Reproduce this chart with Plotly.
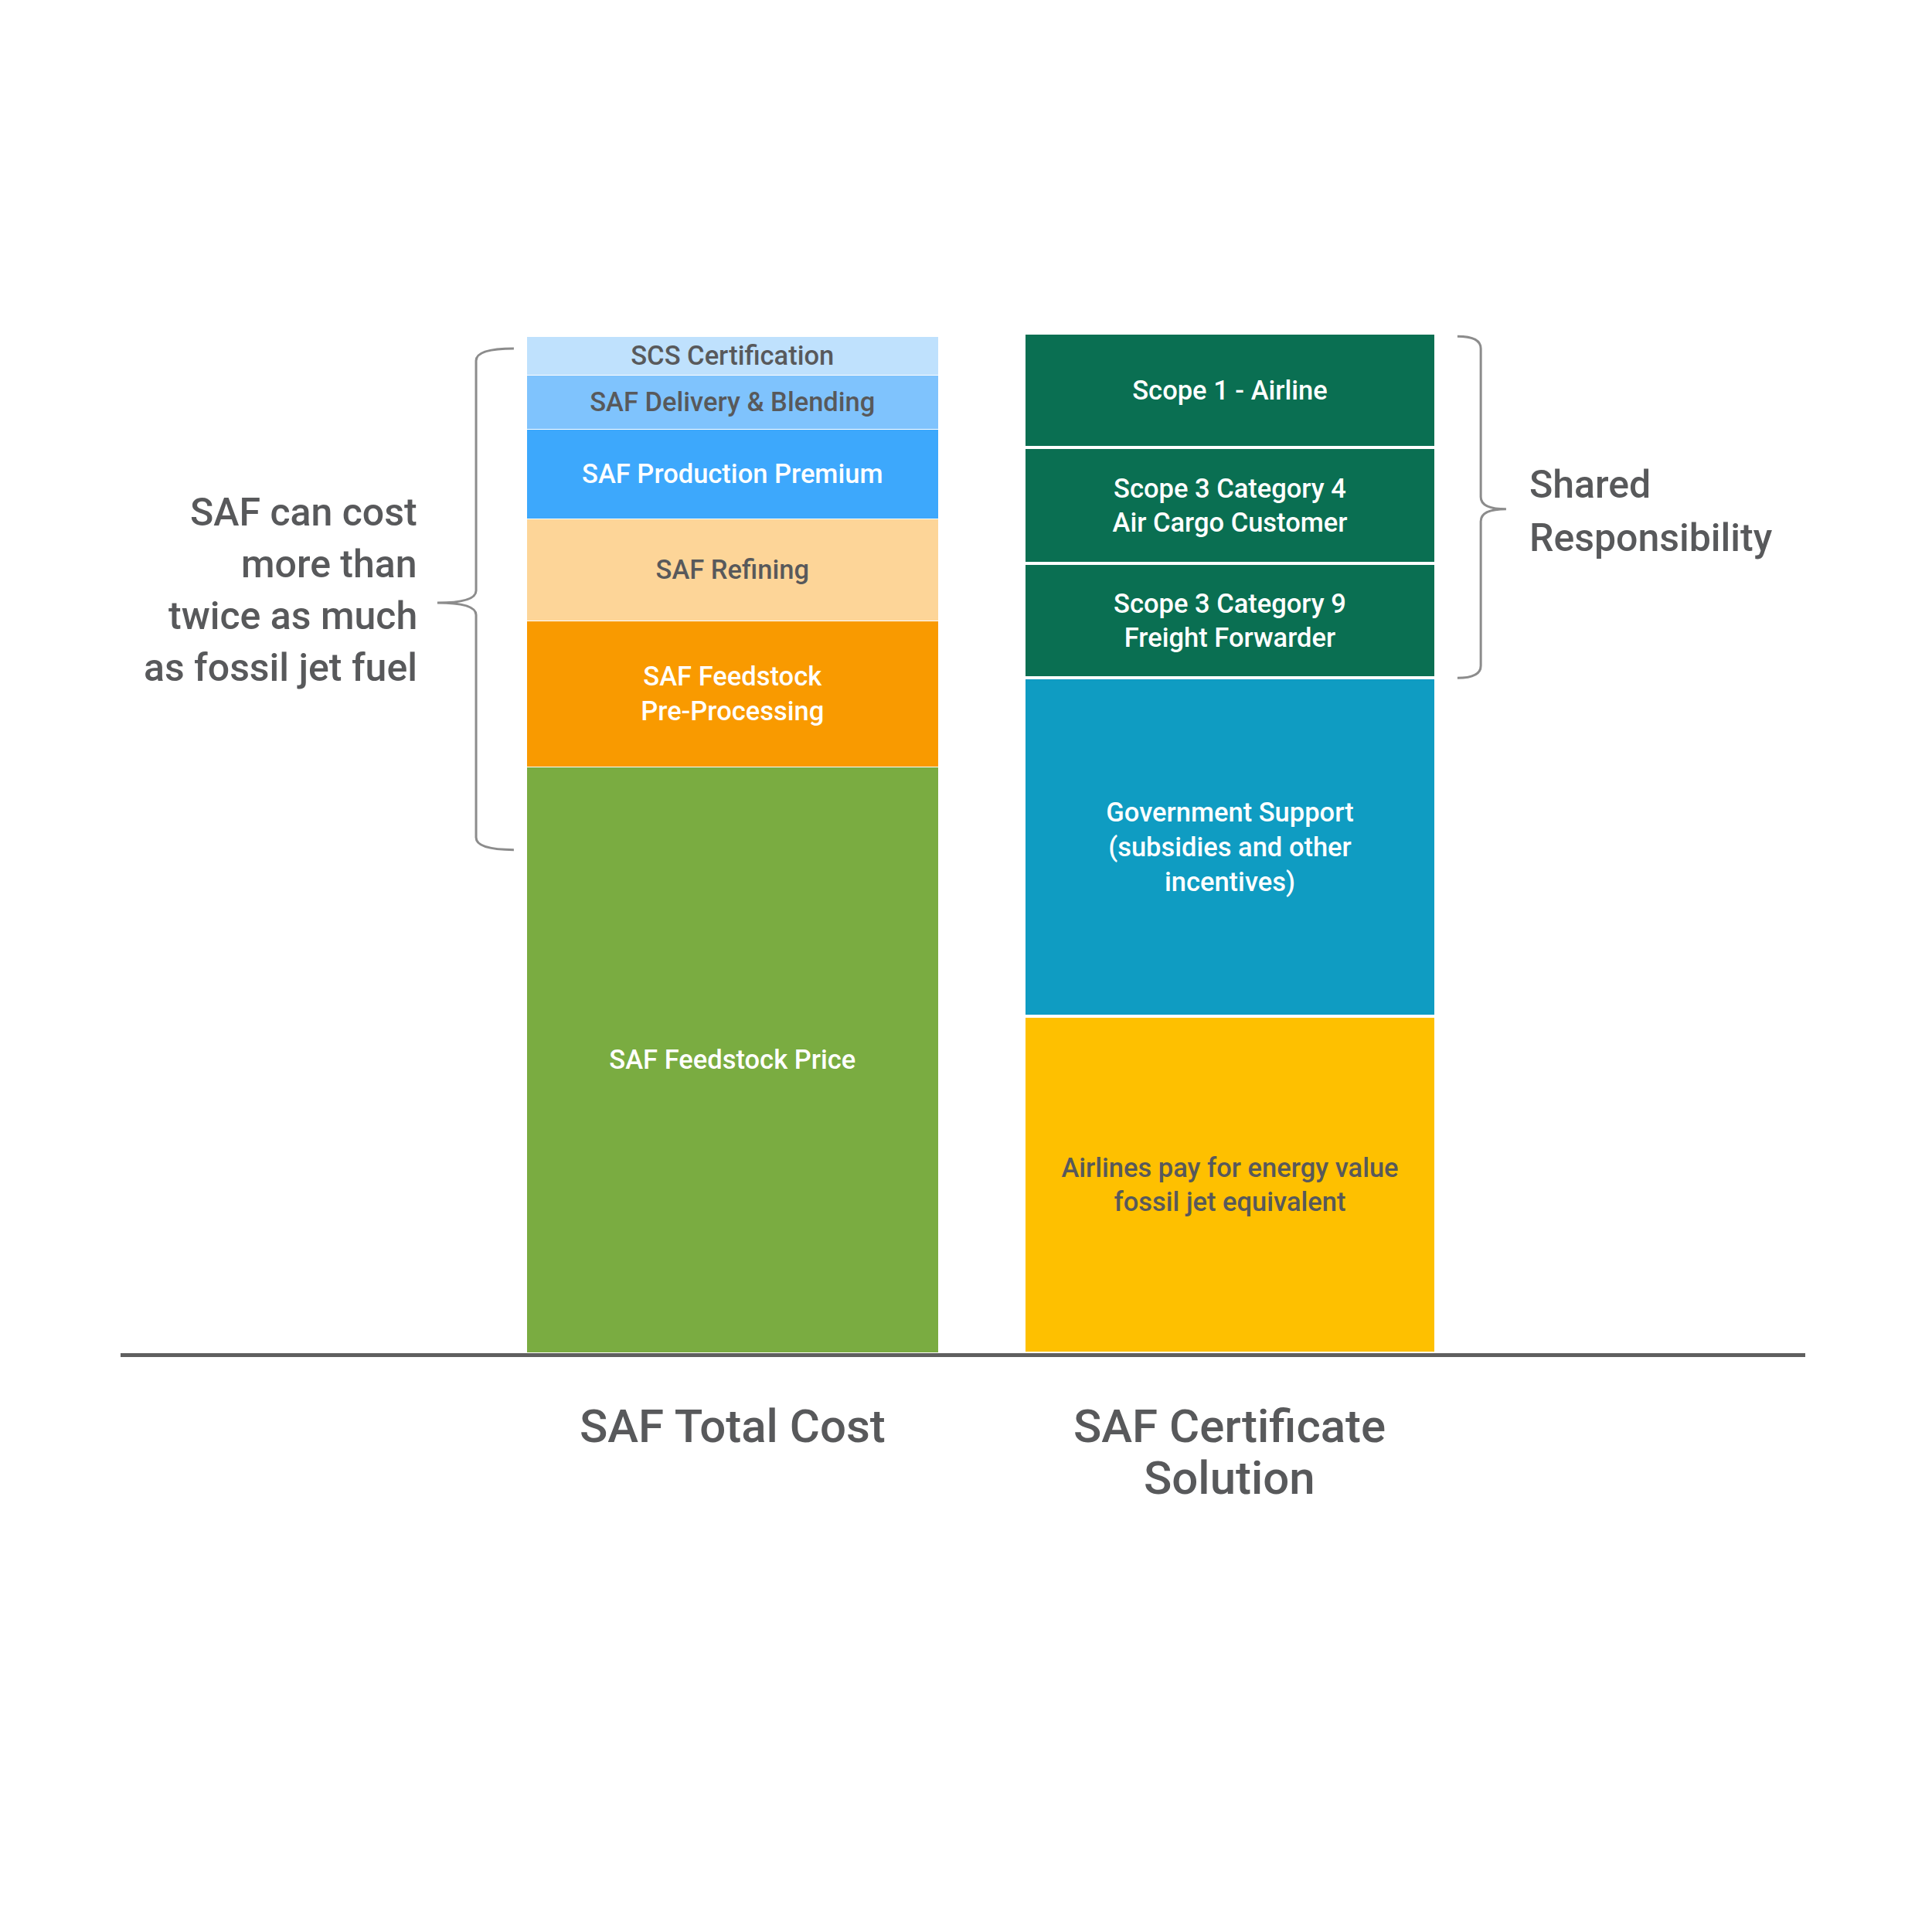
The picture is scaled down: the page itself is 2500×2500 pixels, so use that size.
import plotly.graph_objects as go

# ---------------- data ----------------
categories = ["SAF Total Cost", "SAF Certificate<br>Solution"]

cost_labels = ["SAF Feedstock Price", "SAF Feedstock<br>Pre-Processing", "SAF Refining",
               "SAF Production Premium", "SAF Delivery & Blending", "SCS Certification"]
cost_values = [57.6, 14.4, 10.0, 8.8, 5.3, 3.8]
cost_colors = ["#7AAC41", "#F99A00", "#FDD598", "#3DA8FC", "#7FC3FD", "#BFE1FD"]
cost_text_colors = ["#FFFFFF", "#FFFFFF", "#58595B", "#FFFFFF", "#58595B", "#58595B"]

cert_labels = ["Airlines pay for energy value<br>fossil jet equivalent",
               "Government Support<br>(subsidies and other<br>incentives)",
               "Scope 3 Category 9<br>Freight Forwarder",
               "Scope 3 Category 4<br>Air Cargo Customer",
               "Scope 1 - Airline"]
cert_values = [33.1, 33.3, 11.25, 11.4, 11.25]
cert_colors = ["#FEC000", "#0F9CC2", "#0A6F52", "#0A6F52", "#0A6F52"]
cert_text_colors = ["#58595B", "#FFFFFF", "#FFFFFF", "#FFFFFF", "#FFFFFF"]

left_note = ["SAF can cost", "more than", "twice as much", "as fossil jet fuel"]
right_note = ["Shared", "Responsibility"]

FONT = "Roboto"
GRAY = "#58595B"
x_pos = list(range(len(categories)))

fig = go.Figure()

def add_stack(xi, labels, values, colors, tcolors, lw):
    for lab, v, c, tc in zip(labels, values, colors, tcolors):
        fig.add_trace(go.Bar(
            x=[xi], y=[v], text=[lab], width=0.829,
            marker=dict(color=c, line=dict(color="white", width=lw)),
            textposition="inside", insidetextanchor="middle", textangle=0,
            constraintext="none",
            textfont=dict(family=FONT, size=34.5, color=tc, weight=500),
            hoverinfo="skip", showlegend=False))

add_stack(x_pos[0], cost_labels, cost_values, cost_colors, cost_text_colors, 1.5)
add_stack(x_pos[1], cert_labels, cert_values, cert_colors, cert_text_colors, 4)

# ---------------- brackets ----------------
def brace(xv, xe, xtip, yt, yb, ym, r):
    return (f"M {xe},{yt} Q {xv},{yt} {xv},{yt - r} L {xv},{ym + r} "
            f"Q {xv},{ym} {xtip},{ym} Q {xv},{ym} {xv},{ym - r} "
            f"L {xv},{yb + r} Q {xv},{yb} {xe},{yb}")

left_top = 98.8
left_bot = 49.5
left_mid = 73.8
right_top = sum(cert_values) - 0.3
right_bot = cert_values[0] + cert_values[1]
right_mid = 83.0

fig.add_shape(type="path", xref="x", yref="y",
              path=brace(-0.517, -0.441, -0.595, left_top, left_bot, left_mid, 1.2),
              line=dict(color="#8C8C8C", width=3))
fig.add_shape(type="path", xref="x", yref="y",
              path=brace(1.505, 1.458, 1.556, right_top, right_bot, right_mid, 1.2),
              line=dict(color="#8C8C8C", width=3))

# ---------------- notes ----------------
left_y = [82.7, 77.6, 72.5, 67.4]
for t, yy in zip(left_note, left_y):
    fig.add_annotation(x=-0.632, y=yy, xref="x", yref="y", text=t, showarrow=False,
                       xanchor="right", yanchor="middle",
                       font=dict(family=FONT, size=50, color=GRAY, weight=500))
right_y = [85.4, 80.2]
for t, yy in zip(right_note, right_y):
    fig.add_annotation(x=1.5995, y=yy, xref="x", yref="y", text=t, showarrow=False,
                       xanchor="left", yanchor="middle",
                       font=dict(family=FONT, size=50, color=GRAY, weight=500))

# ---------------- category labels (one annotation per line, below the axis) ----------------
cat_line_shift = [-94, -161]
for xi, cat in zip(x_pos, categories):
    for t, sh in zip(cat.split("<br>"), cat_line_shift):
        fig.add_annotation(x=xi, y=0, xref="x", yref="y", yshift=sh, text=t,
                           showarrow=False, xanchor="center", yanchor="middle",
                           font=dict(family=FONT, size=60, color=GRAY, weight=500))

OFF = 8  # default page body margin
fig.update_layout(
    width=2500, height=2500,
    margin=dict(l=156 - OFF, r=164 + OFF, t=172 - OFF, b=749 + OFF),
    barmode="stack", bargap=0,
    plot_bgcolor="white", paper_bgcolor="white",
    showlegend=False,
    xaxis=dict(range=[-1.2325, 2.158], tickvals=x_pos, showticklabels=False,
               showgrid=False, zeroline=False, showline=True,
               linecolor="#5F5F5F", linewidth=5, ticks=""),
    yaxis=dict(range=[0, 120], visible=False, showgrid=False, zeroline=False),
)

fig.write_html("out.html")
